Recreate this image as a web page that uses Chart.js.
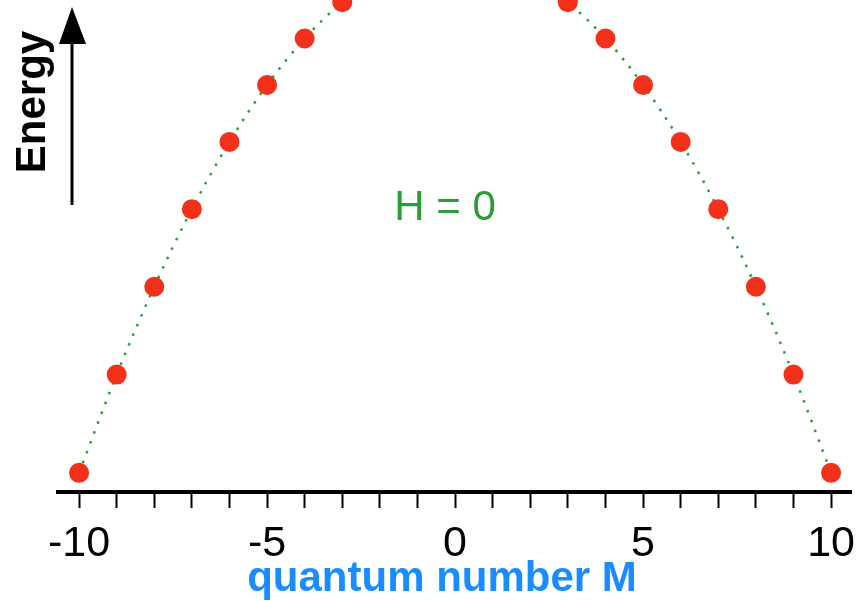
<!DOCTYPE html>
<html>
<head>
<meta charset="utf-8">
<script src="https://cdn.jsdelivr.net/npm/chart.js@4"></script>
<style>
  html, body { margin: 0; padding: 0; background: #fff; }
  #wrap { width: 856px; height: 601px; }
</style>
</head>
<body>
<div id="wrap"><canvas id="levels" width="856" height="601"></canvas></div>
<script>
// quantum number M and the level energy E = -M^2 (arbitrary units)
const quantumM = [-10, -9, -8, -7, -6, -5, -4, -3, -2, -1, 0, 1, 2, 3, 4, 5, 6, 7, 8, 9, 10];
const energies = [-100, -81, -64, -49, -36, -25, -16, -9, -4, -1, 0, -1, -4, -9, -16, -25, -36, -49, -64, -81, -100];
const labelledTicks = [-10, -5, 0, 5, 10];

const FONT = "'Liberation Sans', Arial, sans-serif";

// extra labels: energy arrow, field label and the axis title
const annotations = {
    id: 'annotations',
    afterDraw(chart) {
        const ctx = chart.ctx;
        ctx.save();

        // upward energy arrow
        ctx.strokeStyle = '#000';
        ctx.fillStyle = '#000';
        ctx.lineWidth = 3;
        ctx.beginPath();
        ctx.moveTo(72, 205);
        ctx.lineTo(72, 38);
        ctx.stroke();
        ctx.beginPath();
        ctx.moveTo(72, 7);
        ctx.lineTo(86, 44);
        ctx.lineTo(59, 44);
        ctx.closePath();
        ctx.fill();

        ctx.save();
        ctx.translate(45, 102);
        ctx.rotate(-Math.PI / 2);
        ctx.font = 'bold 42px ' + FONT;
        ctx.textAlign = 'center';
        ctx.textBaseline = 'alphabetic';
        ctx.fillText('Energy', 0, 0);
        ctx.restore();

        ctx.font = '42px ' + FONT;
        ctx.fillStyle = '#2a9d36';
        ctx.textAlign = 'center';
        ctx.textBaseline = 'alphabetic';
        ctx.fillText('H = 0', 445, 220);

        ctx.font = 'bold 42px ' + FONT;
        ctx.fillStyle = '#1a8cff';
        ctx.fillText('quantum number M', 442, 591);

        ctx.restore();
    }
};

new Chart(document.getElementById('levels'), {
    type: 'line',
    data: {
        labels: quantumM,
        datasets: [{
            data: quantumM.map((m, i) => ({ x: m, y: energies[i] })),
            borderColor: '#2a9d36',
            borderWidth: 2.5,
            borderDash: [2.5, 8],
            cubicInterpolationMode: 'monotone',
            pointRadius: 10,
            pointBackgroundColor: '#f3301a',
            pointBorderWidth: 0
        }]
    },
    options: {
        responsive: false,
        animation: false,
        events: [],
        layout: { autoPadding: false, padding: { left: 58, right: 5, top: 0, bottom: 0 } },
        plugins: {
            legend: { display: false },
            tooltip: { enabled: false }
        },
        scales: {
            x: {
                type: 'linear',
                min: -10.56,
                max: 10.53,
                afterFit(scale) {
                    scale.height = 109;
                    scale.paddingLeft = 0;
                    scale.paddingRight = 0;
                },
                border: { display: true, color: '#000', width: 4 },
                grid: {
                    drawOnChartArea: false,
                    drawTicks: true,
                    tickLength: 16,
                    tickWidth: 2,
                    tickColor: '#000'
                },
                ticks: {
                    stepSize: 1,
                    includeBounds: false,
                    autoSkip: false,
                    maxRotation: 0,
                    padding: 10,
                    color: '#000',
                    font: { family: FONT, size: 43 },
                    callback: v => labelledTicks.includes(v) ? String(v) : ''
                }
            },
            y: {
                display: false,
                min: -103.7,
                max: -8.56
            }
        }
    },
    plugins: [annotations]
});
</script>
</body>
</html>
